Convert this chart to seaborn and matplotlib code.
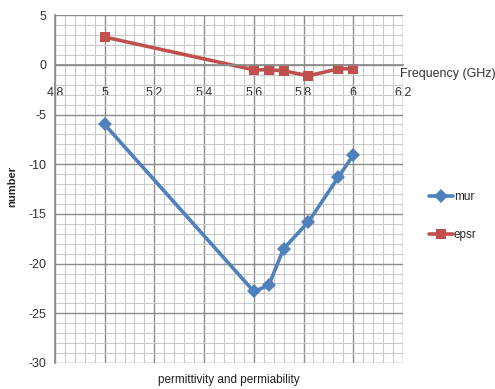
import numpy as np
import pandas as pd
import matplotlib
matplotlib.use("Agg")
import matplotlib.pyplot as plt
from matplotlib.ticker import MultipleLocator, FuncFormatter
import seaborn as sns

# Frequency sweep (GHz) and extracted parameters
freq = [5.0, 5.6, 5.66, 5.72, 5.82, 5.94, 6.0]
mur = [-6.0, -22.8, -22.2, -18.5, -15.8, -11.3, -9.1]
epsr = [2.8, -0.5, -0.5, -0.6, -1.1, -0.4, -0.4]
series_names = ["mur", "epsr"]
series_colors = ["#4F81BD", "#C0504D"]

df = pd.DataFrame({
    "freq": freq * 2,
    "value": mur + epsr,
    "series": ["mur"] * len(freq) + ["epsr"] * len(freq),
})

sns.set_theme(style="white")
plt.rcParams["font.family"] = ["Liberation Sans", "DejaVu Sans"]
plt.rcParams["axes.unicode_minus"] = False

fig = plt.figure(figsize=(4.95, 3.89), dpi=100)
ax = fig.add_axes([0.111, 0.067, 0.703, 0.894])

sns.lineplot(
    data=df, x="freq", y="value", hue="series", style="series",
    hue_order=series_names, style_order=series_names,
    palette=dict(zip(series_names, series_colors)),
    markers={"mur": "D", "epsr": "s"}, dashes=False,
    linewidth=2.6, markersize=7, markeredgewidth=0, ax=ax, sort=False,
)

ax.set_xlim(4.8, 6.2)
ax.set_ylim(-30, 5)
ax.xaxis.set_major_locator(MultipleLocator(0.2))
ax.xaxis.set_minor_locator(MultipleLocator(0.04))
ax.yaxis.set_major_locator(MultipleLocator(5))
ax.yaxis.set_minor_locator(MultipleLocator(1))
ax.xaxis.set_major_formatter(FuncFormatter(lambda v, p: f"{v:g}"))
ax.yaxis.set_major_formatter(FuncFormatter(lambda v, p: f"{v:g}"))

ax.grid(True, which="major", color="#8c8c8c", linewidth=1.0)
ax.grid(True, which="minor", color="#c9c9c9", linewidth=0.8)
ax.set_axisbelow(True)

for s in ["top", "right"]:
    ax.spines[s].set_visible(False)
ax.spines["left"].set_color("#8c8c8c")
ax.spines["bottom"].set_position(("data", 0))
ax.spines["bottom"].set_color("#8c8c8c")

ax.tick_params(axis="x", which="major", length=0, pad=16, labelsize=9, colors="#333333")
ax.tick_params(axis="y", which="major", length=4, color="#8c8c8c", pad=2, labelsize=9, colors="#333333")
ax.tick_params(which="minor", length=0)

ax.set_xlabel("")
ax.set_ylabel("")
fig.text(0.809, 0.81, "Frequency (GHz)", fontsize=9, color="#333333", ha="left", va="center")
fig.text(0.024, 0.52, "number", fontsize=8, fontweight="bold", rotation=90, ha="center", va="center")
fig.text(0.463, 0.023, "permittivity and permiability", fontsize=8.5, color="#222222", ha="center", va="center")

handles, labels = ax.get_legend_handles_labels()
ax.legend(handles, labels, loc="upper left", bbox_to_anchor=(0.855, 0.525),
          bbox_transform=fig.transFigure, frameon=False, fontsize=8.5,
          handlelength=2.0, handletextpad=0.1, labelspacing=2.2, borderpad=0)

fig.savefig("out.png", dpi=100)
